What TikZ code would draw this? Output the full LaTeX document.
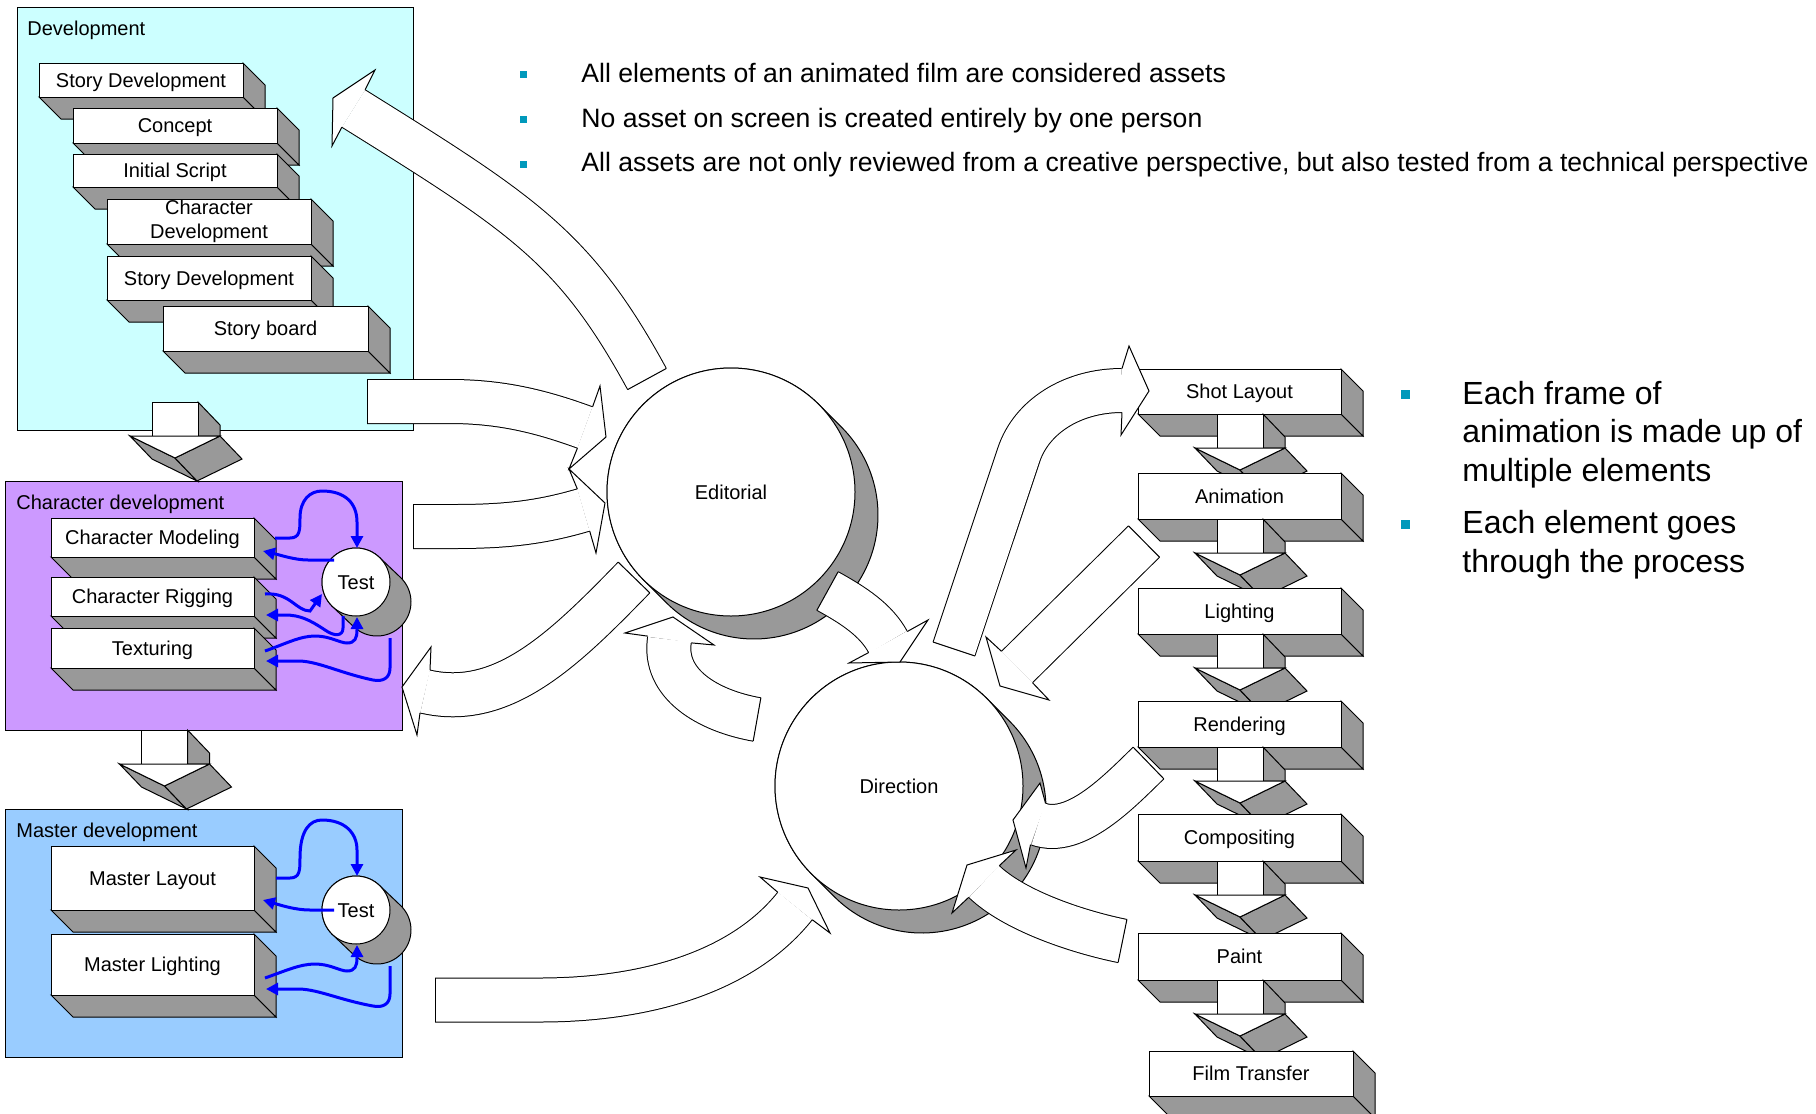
\documentclass[tikz,border=0pt]{standalone}
\usepackage{fontspec}
\setmainfont{Liberation Sans}
\usetikzlibrary{calc,arrows.meta}
\definecolor{devcyan}{RGB}{204,255,255}
\definecolor{chpurple}{RGB}{204,153,255}
\definecolor{mablue}{RGB}{153,204,255}
\definecolor{boxgray}{RGB}{153,153,153}
\definecolor{bullteal}{RGB}{0,153,187}
\tikzset{
  ln/.style={draw=black, line width=0.5pt},
  bandline/.style={draw=black, line width=0.5pt, double=white, double distance=21.5pt},
  lbl/.style={font=\fontsize{10pt}{12pt}\selectfont, inner sep=0pt, text height=7.2pt, text depth=0pt},
  lbltwo/.style={font=\fontsize{10pt}{12pt}\selectfont, inner sep=0pt, align=center},
  bl/.style={draw=blue, line width=1.5pt, -{Triangle[length=6pt,width=6pt]}},
  topb/.style={font=\fontsize{13.3pt}{16pt}\selectfont, inner sep=0pt, anchor=base west},
  rb/.style={font=\fontsize{16pt}{19pt}\selectfont, inner sep=0pt, anchor=base west},
}
% 3D box: name x1 y1 x2 y2 text
\newcommand\dbox[6]{%
  \filldraw[ln,fill=boxgray] (#2,#5) -- (#4,#5) -- ++(22,22) -- ++({#2-#4},0) -- cycle;
  \filldraw[ln,fill=boxgray] (#4,#3) -- ++(22,22) -- ++(0,{#5-#3}) -- ++(-22,-22) -- cycle;
  \filldraw[ln,fill=white] (#2,#3) rectangle (#4,#5);
  \node[lbl] (#1) at ({(#2+#4)/2},{(#3+#5)/2}) {#6};
}
% 3D down arrow: centre x, top y
\newcommand\chev[2]{%
  \filldraw[ln,fill=boxgray] ({#1+23},#2) -- ++(22,23) -- ({#1+45},{#2+34}) -- ({#1+23},{#2+34}) -- cycle;
  \filldraw[ln,fill=white] ({#1-23},#2) rectangle ({#1+23},{#2+34});
  \filldraw[ln,fill=boxgray] ({#1-45},{#2+34}) -- ({#1},{#2+56}) -- ({#1+22},{#2+79}) -- ({#1-23},{#2+57}) -- cycle;
  \filldraw[ln,fill=boxgray] ({#1+45},{#2+34}) -- ({#1},{#2+56}) -- ({#1+22},{#2+79}) -- ({#1+67},{#2+57}) -- cycle;
  \filldraw[ln,fill=white] ({#1-45},{#2+34}) -- ({#1+45},{#2+34}) -- ({#1},{#2+56}) -- cycle;
}
% block arrow: path, T, C1, C2, M, right barb, tip, left barb
\newcommand\barrow[8]{%
  \draw[bandline] #1;
  \draw[ln] ($#2!11pt!90:#3$) -- ($#2!11pt!-90:#3$);
  \filldraw[ln,fill=white] ($#5!11pt!90:#4$) -- #6 -- #7 -- #8 -- ($#5!11pt!-90:#4$);
}
\begin{document}
\begin{tikzpicture}[x=0.5pt,y=-0.5pt]
\useasboundingbox (0,0) rectangle (1816,1114);
\fill[white] (0,0) rectangle (1816,1114);

% ---------- group boxes
\filldraw[ln,fill=devcyan] (17,7) rectangle (413,430);
\node[lbl,anchor=base west] (devlbl) at (27,35) {Development};
\filldraw[ln,fill=chpurple] (5,481) rectangle (402,730);
\node[lbl,anchor=base west] (chlbl) at (16,509) {Character development};
\filldraw[ln,fill=mablue] (5,809) rectangle (402,1057);
\node[lbl,anchor=base west] (malbl) at (16,837) {Master development};

% ---------- development stack
\dbox{sd1}{39}{63}{243}{97}{Story Development}
\dbox{con}{73}{108}{277}{143}{Concept}
\dbox{isc}{73}{154}{277}{187}{Initial Script}
\dbox{chd}{107}{199}{311}{244}{}
\node[lbltwo] (chdt) at (209,221.5) {Character\\Development};
\dbox{sd2}{107}{256}{311}{300}{Story Development}
\dbox{sbd}{163}{306}{368}{351}{Story board}
\chev{175}{402}

% ---------- character development
\dbox{cmod}{51}{518}{254}{557}{Character Modeling}
\dbox{crig}{51}{577}{254}{616}{Character Rigging}
\dbox{ctex}{51}{628}{254}{668}{Texturing}
\filldraw[ln,fill=boxgray] plot[domain=-46.4:133.6,samples=40] ({377+34*cos(\x)},{602+34*sin(\x)}) -- plot[domain=133.6:313.6,samples=40] ({356+34*cos(\x)},{582+34*sin(\x)}) -- cycle;
\node[circle,ln,fill=white,minimum size=34pt,inner sep=0pt,font=\fontsize{10pt}{12pt}\selectfont,text height=7.2pt,text depth=0pt] (tst1) at (356,582) {Test};
\draw[bl] (275,538) -- (290,538) .. controls (300,538) and (300,530) .. (300,518) .. controls (300,500) and (310,491) .. (322,491) .. controls (345,491) and (357,503) .. (357,522) -- (357,548);
\draw[bl] (334,560) -- (308,560) .. controls (295,560) and (280,555) .. (263,551);
\draw[bl] (265,594) .. controls (290,592) and (296,611) .. (310,611) -- (322,594);
\draw[bl] (343,616) -- (343,628) .. controls (343,636) and (335,637) .. (325,630) .. controls (310,620) and (300,615) .. (285,615) -- (266,615);
\draw[bl] (265,651) .. controls (285,644) and (300,636) .. (315,636) .. controls (330,636) and (340,643) .. (347,643) .. controls (355,643) and (357,638) .. (357,630) -- (357,617);
\draw[bl] (390,638) -- (390,668) .. controls (390,678) and (383,682) .. (373,680) .. controls (340,673) and (320,662) .. (300,661) -- (266,661);
\chev{164.5}{730}

% ---------- master development
\dbox{mlay}{51}{846}{254}{910}{Master Layout}
\dbox{mlig}{51}{934}{254}{995}{Master Lighting}
\filldraw[ln,fill=boxgray] plot[domain=-46.4:133.6,samples=40] ({377+34*cos(\x)},{930+34*sin(\x)}) -- plot[domain=133.6:313.6,samples=40] ({356+34*cos(\x)},{910+34*sin(\x)}) -- cycle;
\node[circle,ln,fill=white,minimum size=34pt,inner sep=0pt,font=\fontsize{10pt}{12pt}\selectfont,text height=7.2pt,text depth=0pt] (tst2) at (356,910) {Test};
\draw[bl] (276,878) -- (290,878) .. controls (300,878) and (300,870) .. (300,858) .. controls (300,830) and (310,820) .. (322,820) .. controls (345,820) and (357,833) .. (357,850) -- (357,876);
\draw[bl] (334,910) -- (310,910) .. controls (295,910) and (280,905) .. (263,900);
\draw[bl] (265,978) .. controls (285,971) and (300,964) .. (315,964) .. controls (330,964) and (340,971) .. (347,971) .. controls (355,971) and (357,966) .. (357,958) -- (357,945);
\draw[bl] (390,966) -- (390,994) .. controls (390,1004) and (383,1008) .. (373,1006) .. controls (340,1000) and (320,990) .. (300,989) -- (266,989);

% ---------- Editorial and Direction
\filldraw[ln,fill=boxgray] plot[domain=-45:135,samples=80] ({754+124*cos(\x)},{515+124*sin(\x)}) -- plot[domain=135:315,samples=80] ({731+124*cos(\x)},{492+124*sin(\x)}) -- cycle;
\node[circle,ln,fill=white,minimum size=124pt,inner sep=0pt,font=\fontsize{10pt}{12pt}\selectfont,text height=7.2pt,text depth=0pt] (edi) at (731,492) {Editorial};
\filldraw[ln,fill=boxgray] plot[domain=-45:135,samples=80] ({922+124*cos(\x)},{809+124*sin(\x)}) -- plot[domain=135:315,samples=80] ({899+124*cos(\x)},{786+124*sin(\x)}) -- cycle;
\node[circle,ln,fill=white,minimum size=124pt,inner sep=0pt,font=\fontsize{10pt}{12pt}\selectfont,text height=7.2pt,text depth=0pt] (dir) at (899,786) {Direction};

% ---------- shot pipeline
\dbox{sl}{1138}{369}{1341}{414}{Shot Layout}
\chev{1240}{414}
\dbox{an}{1138}{473}{1341}{519}{Animation}
\chev{1240}{519}
\dbox{li}{1138}{588}{1341}{634}{Lighting}
\chev{1240}{634}
\dbox{re}{1138}{701}{1341}{747}{Rendering}
\chev{1240}{747}
\dbox{co}{1138}{814}{1341}{861}{Compositing}
\chev{1240}{861}
\dbox{pa}{1138}{933}{1341}{980}{Paint}
\chev{1240}{980}
\dbox{ft}{1149}{1051}{1353}{1096}{Film Transfer}

% ---------- block arrows
\barrow{(647,379) .. controls (575,247) and (523.5,214.5) .. (353.5,108.5)}{(647,379)}{(575,247)}{(523.5,214.5)}{(353.5,108.5)}{(375,70)}{(333,98)}{(332,146)}
\barrow{(367,401.5) -- (450,401.5) .. controls (500,401.5) and (540,411) .. (585,427.5)}{(367,401.5)}{(450,401.5)}{(540,411)}{(585,427.5)}{(569,469)}{(606,437)}{(600,386)}
\barrow{(413,526.5) -- (455,526.5) .. controls (505,526.5) and (540.3,522.7) .. (583.5,510)}{(413,526.5)}{(455,526.5)}{(540.3,522.7)}{(583.5,510)}{(596,553)}{(605,503)}{(569,469)}
\barrow{(634,577.5) .. controls (564.5,649) and (503,709.7) .. (425,691.5)}{(634,577.5)}{(564.5,649)}{(503,709.7)}{(425,691.5)}{(431,647)}{(402,687)}{(417,735)}
\barrow{(827.5,591) .. controls (853.8,605.5) and (876,620) .. (888,642)}{(827.5,591)}{(853.8,605.5)}{(876,620)}{(888,642)}{(849,663)}{(900,662)}{(928,620)}
\barrow{(757,719.5) .. controls (707.8,710.8) and (662.6,684) .. (669.5,639.5)}{(757,719.5)}{(707.8,710.8)}{(662.6,684)}{(669.5,639.5)}{(714,645)}{(673,617)}{(625,633)}
\barrow{(954,649) -- (1018.8,454.7) .. controls (1031.4,416.8) and (1072,390.5) .. (1122,390.5)}{(954,649)}{(1018.8,454.7)}{(1072,390.5)}{(1122,390.5)}{(1121,435)}{(1149,391)}{(1129,346)}
\barrow{(1144,541.5) -- (1017,667)}{(1144,541.5)}{(1017,667)}{(1144,541.5)}{(1017,667)}{(986,637)}{(1000,686)}{(1049,700)}
\barrow{(1148.5,763) .. controls (1119.8,790.8) and (1075.6,837.7) .. (1038,824)}{(1148.5,763)}{(1119.8,790.8)}{(1075.6,837.7)}{(1038,824)}{(1040,783)}{(1013,820)}{(1026,868)}
\barrow{(1122.5,941) .. controls (1073.5,931) and (1012.7,909.3) .. (984,881.5)}{(1122.5,941)}{(1073.5,931)}{(1012.7,909.3)}{(984,881.5)}{(1016,850)}{(967,865)}{(952,913)}
\barrow{(435,1000) -- (540,1000) .. controls (640,1000) and (740,975) .. (795,906)}{(435,1000)}{(540,1000)}{(740,975)}{(795,906)}{(830,933)}{(808,888)}{(760,877)}

% ---------- bullet texts
\fill[bullteal] (519.5,70.5) rectangle (526.5,77.5);
\fill[bullteal] (519.5,115.5) rectangle (526.5,122.5);
\fill[bullteal] (519.5,160.5) rectangle (526.5,167.5);
\node[topb] (t1) at (581,82.5) {All elements of an animated film are considered assets};
\node[topb] (t2) at (581,127) {No asset on screen is created entirely by one person};
\node[topb] (t3) at (581,171.5) {All assets are not only reviewed from a creative perspective, but also tested from a technical perspective};
\fill[bullteal] (1400.5,389.5) rectangle (1409.5,398.5);
\fill[bullteal] (1400.5,519.5) rectangle (1409.5,528.5);
\node[rb] (r1) at (1462,404) {Each frame of};
\node[rb] (r2) at (1462,442) {animation is made up of};
\node[rb] (r3) at (1462,481) {multiple elements};
\node[rb] (r4) at (1462,533) {Each element goes};
\node[rb] (r5) at (1462,572) {through the process};
\end{tikzpicture}
\end{document}
